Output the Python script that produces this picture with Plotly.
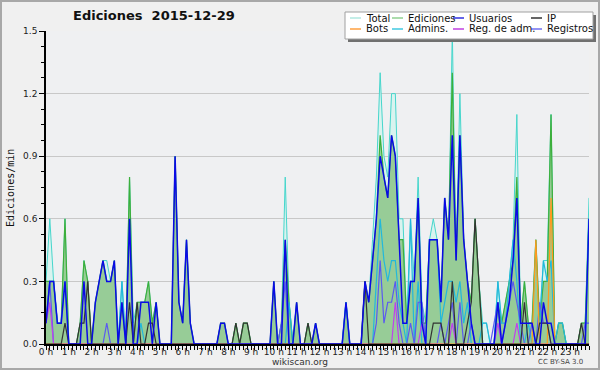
import plotly.graph_objects as go

# ---- data: 10-minute bins (6 per hour), values in edits/min ----
total = [
    0.3,0.6,0.3,0.1,0.1,0.6,  0,0,0,0.1,0.4,0.3,  0,0.2,0.3,0.4,0.4,0.3,  0.4,0,0.3,0,0.8,0.1,
    0.2,0.2,0.2,0.3,0.1,0.2,  0,0,0,0,0.9,0.2,  0.1,0.5,0.1,0,0,0,  0,0,0,0,0.1,0.1,
    0,0,0.1,0,0.1,0.1,  0,0,0,0,0,0,  0.3,0,0.1,0.8,0.2,0,  0.2,0,0,0.1,0,0.1,
    0,0,0,0,0,0,  0,0.2,0,0,0,0,  0.3,0.2,0.5,0.8,1.3,0.9,  0.8,1.2,1.2,0.6,0.6,0.1,
    0.6,0.3,0.8,0.2,0.1,0.5,  0.6,0.5,0.2,0.7,0.5,1.5,  0.4,1.2,0.5,0.3,0.2,0.6,  0.3,0.1,0.1,0,0,0.3,
    0.1,0.2,0.3,0.5,1.1,0.1,  0.3,0.1,0.1,0.5,0.1,0.4,  0.4,1.1,0,0.1,0.1,0,  0,0,0,0.1,0.1,0.7,
]
ediciones = [
    0.3,0.3,0.3,0.1,0.1,0.6,  0,0,0,0.1,0.4,0.3,  0,0.2,0.3,0.4,0.3,0.3,  0.4,0,0.2,0,0.8,0,
    0.2,0.2,0.2,0.3,0.1,0.2,  0,0,0,0,0.9,0.2,  0.1,0.5,0.1,0,0,0,  0,0,0,0,0.1,0.1,
    0,0,0.1,0,0.1,0.1,  0,0,0,0,0,0,  0.3,0,0.1,0.5,0.2,0,  0.2,0,0,0.1,0,0.1,
    0,0,0,0,0,0,  0,0.2,0,0,0,0,  0.3,0.2,0.4,0.6,1.0,0.8,  0.7,1.0,0.9,0.5,0.5,0.1,
    0.3,0.3,0.7,0.1,0.1,0.5,  0.5,0.5,0.2,0.7,0.5,1.3,  0.4,1.0,0.5,0.3,0.2,0.6,  0.3,0,0,0,0,0.2,
    0.1,0.2,0.3,0.4,0.8,0.1,  0.3,0.1,0.1,0.5,0.1,0.3,  0.3,1.1,0,0.1,0.1,0,  0,0,0,0.1,0.1,0.6,
]
usuarios = [
    0.1,0.3,0.3,0.1,0.1,0.3,  0,0,0,0,0.3,0,  0,0.2,0.3,0.4,0.3,0.3,  0.4,0,0.2,0,0.6,0,
    0,0.2,0.2,0.2,0,0.2,  0,0,0,0,0.9,0.2,  0.1,0.5,0.1,0,0,0,  0,0,0,0,0.1,0.1,
    0,0,0,0,0,0,  0,0,0,0,0,0,  0.3,0,0,0.5,0,0,  0.2,0,0,0,0,0.1,
    0,0,0,0,0,0,  0,0.2,0,0,0,0,  0.3,0.2,0.4,0.6,0.9,0.8,  0.7,1.0,0.9,0.5,0.1,0.1,
    0.3,0.3,0.7,0.1,0,0.5,  0.5,0.5,0.2,0.7,0.5,1.0,  0.4,1.0,0.5,0.3,0.1,0,  0,0,0,0,0,0.2,
    0,0.1,0.2,0.4,0.7,0.1,  0.1,0.1,0.1,0,0,0.2,  0.1,0.1,0,0,0,0,  0,0,0,0,0,0.6,
]
ip = [
    0,0,0,0,0,0.1,  0,0,0,0.1,0.1,0.3,  0,0,0,0,0,0,  0,0,0,0,0.2,0,
    0.2,0,0,0.1,0.1,0,  0,0,0,0,0,0,  0,0,0,0,0,0,  0,0,0,0,0,0,
    0,0,0.1,0,0.1,0.1,  0,0,0,0,0,0,  0,0,0,0,0,0,  0,0,0,0.1,0,0,
    0,0,0,0,0,0,  0,0,0,0,0,0,  0.3,0,0,0,0,0,  0,0,0,0,0,0,
    0,0,0,0,0,0,  0.1,0.1,0.1,0,0,0.3,  0,0,0,0.1,0.2,0.6,  0.3,0,0,0,0,0,
    0,0,0,0,0,0,  0.2,0,0,0,0.1,0.1,  0.1,0,0,0,0,0,  0,0,0,0.1,0,0,
]
bots = [0] * 129 + [0.5, 0, 0, 0, 0.7] + [0] * 10
admins = [
    0.1,0.3,0.3,0.1,0.1,0.3,  0,0,0,0,0,0,  0,0,0,0,0,0,  0,0,0.3,0,0,0,
    0,0.1,0,0,0,0,  0,0,0,0,0,0,  0,0,0,0,0,0,  0,0,0,0,0,0,
    0,0,0,0,0,0,  0,0,0,0,0,0,  0,0,0,0,0.2,0,  0,0,0,0,0,0,
    0,0,0,0,0,0,  0,0.2,0,0,0,0,  0,0,0,0.3,0.6,0.4,  0.3,0.4,0.4,0.2,0.1,0,
    0.6,0,0.3,0,0,0.5,  0.5,0.5,0.1,0.2,0.3,0.3,  0.2,0.3,0.1,0.2,0,0,  0,0.1,0.1,0,0,0.3,
    0.1,0.1,0.3,0.5,0.3,0,  0,0.1,0,0,0.1,0.4,  0.3,0.4,0,0.1,0.1,0,  0,0,0,0,0,0.6,
]
reg_adm = [0.1, 0.2] + [0] * 90 + [0.2] + [0] * 6 + [0.1] + [0] * 7 + [0.1] + [0] * 11 + [0.1] + [0] * 4 + [0.1] + [0] * 19
registros = [
    0.1,0.3,0,0,0,0,  0,0,0,0,0,0,  0,0,0,0,0.1,0,  0,0,0,0,0,0,
    0,0,0,0,0,0,  0,0,0,0,0,0,  0,0,0,0,0,0,  0,0,0,0,0,0,
    0,0,0,0,0,0,  0,0,0,0,0,0,  0,0,0.1,0.3,0,0,  0,0,0,0,0,0,
    0,0,0,0,0,0,  0,0,0,0,0,0,  0,0,0,0.1,0.4,0.1,  0.2,0.2,0.3,0.1,0,0,
    0.1,0,0.2,0.2,0,0,  0,0,0.1,0,0.1,0.2,  0,0.2,0,0,0.1,0,  0,0,0,0,0.1,0.2,
    0,0.1,0.2,0.3,0.2,0.1,  0,0,0.1,0,0.2,0.1,  0.1,0,0,0,0,0,  0,0,0,0,0.1,0.1,
]
hours = [i / 6 for i in range(len(total))]
hour_ticks = list(range(24))
hour_labels = [f"{h} h" for h in hour_ticks]
y_ticks = [0, 0.3, 0.6, 0.9, 1.2, 1.5]

FONT = "DejaVu Sans, sans-serif"

fig = go.Figure()
fig.add_trace(go.Scatter(x=hours, y=total, name="Total", mode="lines", fill="tozeroy",
                         fillcolor="#d9f3ef", line=dict(color="#46d6cc", width=1)))
fig.add_trace(go.Scatter(x=hours, y=ediciones, name="Ediciones", mode="lines", fill="tozeroy",
                         fillcolor="#97cc97", line=dict(color="#3caf3c", width=1.2)))
fig.add_trace(go.Scatter(x=hours, y=admins, name="Admins.", mode="lines",
                         line=dict(color="#22b8dc", width=1.2)))
fig.add_trace(go.Scatter(x=hours, y=registros, name="Registros", mode="lines",
                         line=dict(color="#5a5af0", width=1.2)))
fig.add_trace(go.Scatter(x=hours, y=reg_adm, name="Reg. de adm.", mode="lines",
                         line=dict(color="#c040ee", width=1.2)))
fig.add_trace(go.Scatter(x=hours, y=bots, name="Bots", mode="lines",
                         line=dict(color="#ff9a1e", width=1.2)))
fig.add_trace(go.Scatter(x=hours, y=ip, name="IP", mode="lines",
                         line=dict(color="#333333", width=1.2)))
fig.add_trace(go.Scatter(x=hours, y=usuarios, name="Usuarios", mode="lines",
                         line=dict(color="#0a0ae6", width=1.5)))

L, T, W, H = 46, 31, 543, 313
def px(x):
    return (x - L) / W
def py(y):
    return (T + H - y) / H

shapes = [
    dict(type="rect", xref="paper", yref="paper", x0=px(1), x1=px(599), y0=py(369), y1=py(1),
         line=dict(color="#a8a8a8", width=2), fillcolor="rgba(0,0,0,0)", layer="below"),
    dict(type="rect", xref="paper", yref="paper", x0=px(348), x1=px(596), y0=py(42), y1=py(15),
         line=dict(width=0), fillcolor="#707070"),
    dict(type="rect", xref="paper", yref="paper", x0=px(345), x1=px(593), y0=py(39), y1=py(12),
         line=dict(color="#a0a0a0", width=1), fillcolor="#ffffff"),
]
annotations = [
    dict(text="<b>Ediciones  2015-12-29</b>", x=px(154), y=py(16), xref="paper", yref="paper",
         showarrow=False, font=dict(family=FONT, size=13, color="#111"), xanchor="center", yanchor="middle"),
    dict(text="Ediciones/min", x=px(10), y=py(188), xref="paper", yref="paper", textangle=-90,
         showarrow=False, font=dict(family="DejaVu Sans Mono, monospace", size=10, color="#111"),
         xanchor="center", yanchor="middle"),
    dict(text="wikiscan.org", x=px(300), y=py(362), xref="paper", yref="paper",
         showarrow=False, font=dict(family=FONT, size=9, color="#333"), xanchor="center", yanchor="middle"),
    dict(text="CC BY-SA 3.0", x=px(560), y=py(362), xref="paper", yref="paper",
         showarrow=False, font=dict(family=FONT, size=7, color="#444"), xanchor="center", yanchor="middle"),
]

legend_items = [
    ("Total", "#b0e8e0", 350, 18), ("Ediciones", "#90d090", 392, 18),
    ("Usuarios", "#3030e0", 453, 18), ("IP", "#333333", 531, 18),
    ("Bots", "#ffa040", 350, 29), ("Admins.", "#40c8e0", 392, 29),
    ("Reg. de adm.", "#c040e0", 453, 29), ("Registros", "#7070f0", 531, 29),
]
for name, color, lx, ly in legend_items:
    shapes.append(dict(type="line", xref="paper", yref="paper", x0=px(lx), x1=px(lx + 11),
                       y0=py(ly), y1=py(ly), line=dict(color=color, width=1.5)))
    annotations.append(dict(text=name, x=px(lx + 14), y=py(ly), xref="paper", yref="paper",
                            showarrow=False, xanchor="left", yanchor="middle",
                            font=dict(family=FONT, size=10, color="#111")))

fig.update_layout(
    width=600, height=370,
    margin=dict(l=L, r=600 - L - W, t=T, b=370 - T - H, pad=0, autoexpand=False),
    paper_bgcolor="#f0f0f0", plot_bgcolor="#eff0f2",
    showlegend=False, shapes=shapes, annotations=annotations,
    font=dict(family=FONT, size=10, color="#222"),
)
fig.update_xaxes(range=[0, 143 / 6], tickvals=hour_ticks, ticktext=hour_labels, automargin=False,
                 showgrid=False, zeroline=False, showline=True, linecolor="black", linewidth=1.5,
                 ticks="outside", ticklen=4, tickcolor="black", tickfont=dict(size=9),
                 ticklabelstandoff=-6,
                 minor=dict(dtick=1 / 6, ticks="outside", ticklen=4, tickcolor="black", showgrid=False))
fig.update_yaxes(range=[0, 1.5], tickvals=y_ticks, tickformat=".1f", automargin=False,
                 showgrid=True, gridcolor="#c8c8c8", gridwidth=1, zeroline=False,
                 showline=True, linecolor="black", linewidth=1.5,
                 ticks="outside", ticklen=5, tickcolor="black", tickfont=dict(size=9),
                 minor=dict(dtick=0.075, ticks="outside", ticklen=3, tickcolor="black", showgrid=False))

fig.write_html("out.html", config={"displayModeBar": False},
               post_script="document.body.style.margin='0';document.body.style.overflow='hidden';")
